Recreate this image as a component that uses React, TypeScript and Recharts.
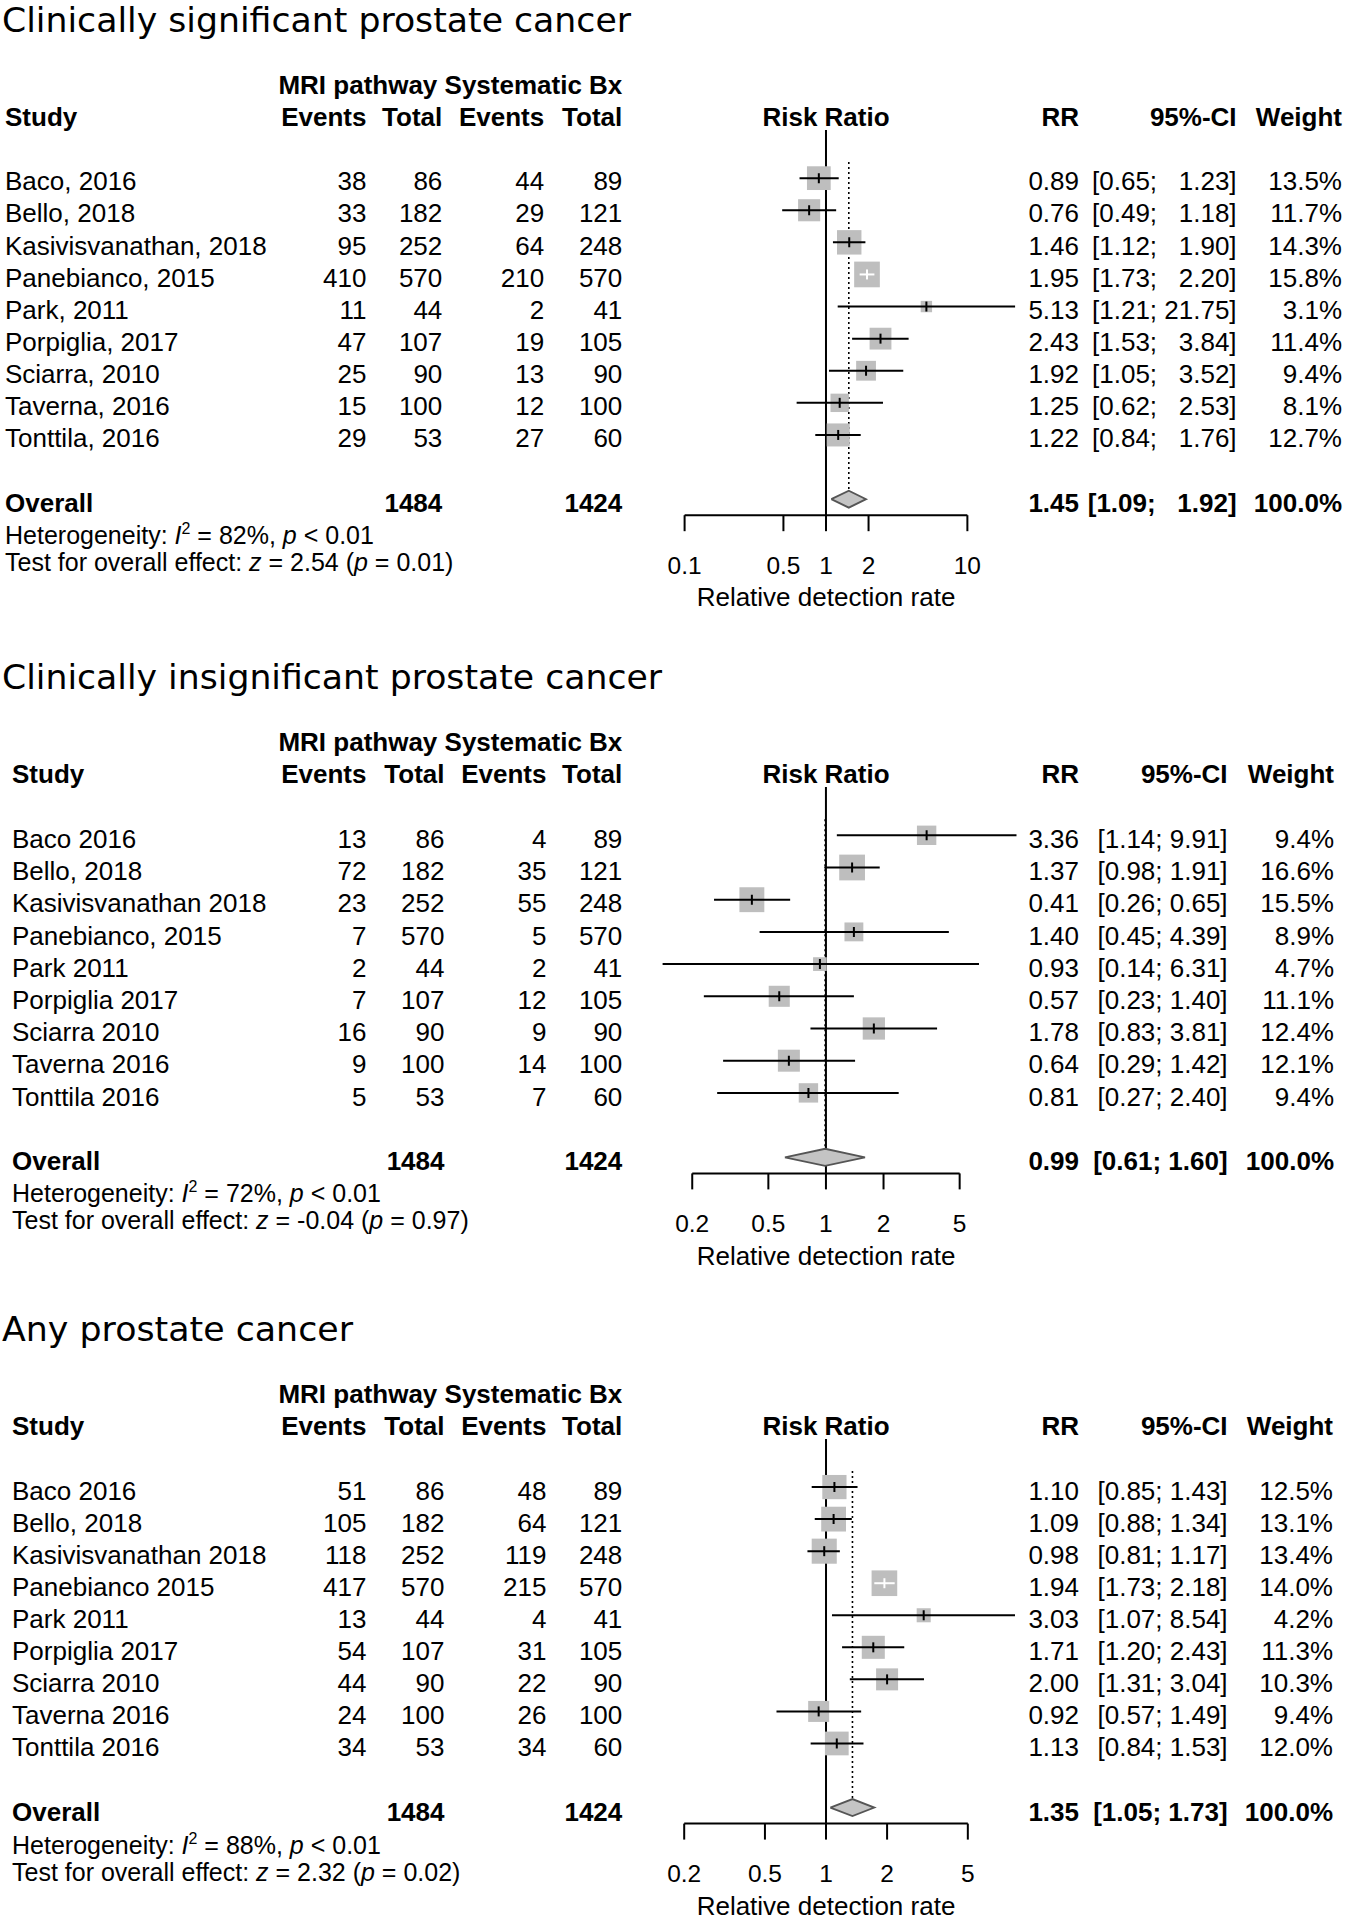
import React from "react";
import { ScatterChart, Scatter, XAxis, YAxis, ReferenceLine } from "recharts";

// ---- panel 1: clinically significant
const sigStudies = ["Baco, 2016", "Bello, 2018", "Kasivisvanathan, 2018", "Panebianco, 2015", "Park, 2011", "Porpiglia, 2017", "Sciarra, 2010", "Taverna, 2016", "Tonttila, 2016"];
const sigMriEvents = [38, 33, 95, 410, 11, 47, 25, 15, 29];
const sigMriTotal = [86, 182, 252, 570, 44, 107, 90, 100, 53];
const sigSysEvents = [44, 29, 64, 210, 2, 19, 13, 12, 27];
const sigSysTotal = [89, 121, 248, 570, 41, 105, 90, 100, 60];
const sigRR = [0.89, 0.76, 1.46, 1.95, 5.13, 2.43, 1.92, 1.25, 1.22];
const sigLower = [0.65, 0.49, 1.12, 1.73, 1.21, 1.53, 1.05, 0.62, 0.84];
const sigUpper = [1.23, 1.18, 1.9, 2.2, 21.75, 3.84, 3.52, 2.53, 1.76];
const sigWeight = [13.5, 11.7, 14.3, 15.8, 3.1, 11.4, 9.4, 8.1, 12.7];

// ---- panel 2: clinically insignificant
const insigStudies = ["Baco 2016", "Bello, 2018", "Kasivisvanathan 2018", "Panebianco, 2015", "Park 2011", "Porpiglia 2017", "Sciarra 2010", "Taverna 2016", "Tonttila 2016"];
const insigMriEvents = [13, 72, 23, 7, 2, 7, 16, 9, 5];
const insigMriTotal = [86, 182, 252, 570, 44, 107, 90, 100, 53];
const insigSysEvents = [4, 35, 55, 5, 2, 12, 9, 14, 7];
const insigSysTotal = [89, 121, 248, 570, 41, 105, 90, 100, 60];
const insigRR = [3.36, 1.37, 0.41, 1.4, 0.93, 0.57, 1.78, 0.64, 0.81];
const insigLower = [1.14, 0.98, 0.26, 0.45, 0.14, 0.23, 0.83, 0.29, 0.27];
const insigUpper = [9.91, 1.91, 0.65, 4.39, 6.31, 1.4, 3.81, 1.42, 2.4];
const insigWeight = [9.4, 16.6, 15.5, 8.9, 4.7, 11.1, 12.4, 12.1, 9.4];

// ---- panel 3: any prostate cancer
const anyStudies = ["Baco 2016", "Bello, 2018", "Kasivisvanathan 2018", "Panebianco 2015", "Park 2011", "Porpiglia 2017", "Sciarra 2010", "Taverna 2016", "Tonttila 2016"];
const anyMriEvents = [51, 105, 118, 417, 13, 54, 44, 24, 34];
const anyMriTotal = [86, 182, 252, 570, 44, 107, 90, 100, 53];
const anySysEvents = [48, 64, 119, 215, 4, 31, 22, 26, 34];
const anySysTotal = [89, 121, 248, 570, 41, 105, 90, 100, 60];
const anyRR = [1.1, 1.09, 0.98, 1.94, 3.03, 1.71, 2.0, 0.92, 1.13];
const anyLower = [0.85, 0.88, 0.81, 1.73, 1.07, 1.2, 1.31, 0.57, 0.84];
const anyUpper = [1.43, 1.34, 1.17, 2.18, 8.54, 2.43, 3.04, 1.49, 1.53];
const anyWeight = [12.5, 13.1, 13.4, 14.0, 4.2, 11.3, 10.3, 9.4, 12.0];

// ---- pooled results, one entry per panel
const panelTitles = ["Clinically significant prostate cancer", "Clinically insignificant prostate cancer", "Any prostate cancer"];
const overallMriTotal = [1484, 1484, 1484];
const overallSysTotal = [1424, 1424, 1424];
const overallRR = [1.45, 0.99, 1.35];
const overallLower = [1.09, 0.61, 1.05];
const overallUpper = [1.92, 1.6, 1.73];
const hetI2 = [82, 72, 88];
const hetP = ["< 0.01", "< 0.01", "< 0.01"];
const effectZ = ["2.54", "-0.04", "2.32"];
const effectP = ["0.01", "0.97", "0.02"];
const axisTicks = [
  [0.1, 0.5, 1, 2, 10],
  [0.2, 0.5, 1, 2, 5],
  [0.2, 0.5, 1, 2, 5],
];

const FONT = '"Liberation Sans", Arial, Helvetica, sans-serif';
const TITLE_FONT = '"DejaVu Sans", Verdana, sans-serif';
const PAGE_W = 1346;
const SQUARE = "#bebebe";
const X_ONE = 826;

const layouts = [
  { plotTop: 129.7, step: 32.1, plotLeft: 684.6, plotRight: 1015.1, studyX: 5, cols: [366.4, 442.3, 544.2, 622.3], rrRight: 1079, ciRight: 1236.6, wRight: 1342, titleW: 629 },
  { plotTop: 787.1, step: 32.2, plotLeft: 662.6, plotRight: 1016.5, studyX: 12, cols: [366.4, 444.5, 546.4, 622.3], rrRight: 1079, ciRight: 1227.6, wRight: 1334, titleW: 660 },
  { plotTop: 1439.3, step: 32.05, plotLeft: 684.2, plotRight: 1015, studyX: 12, cols: [366.4, 444.5, 546.4, 622.3], rrRight: 1079, ciRight: 1227.6, wRight: 1333, titleW: 351 },
];

const panels = [
  { studies: sigStudies, e1: sigMriEvents, n1: sigMriTotal, e2: sigSysEvents, n2: sigSysTotal, rr: sigRR, lo: sigLower, hi: sigUpper, w: sigWeight },
  { studies: insigStudies, e1: insigMriEvents, n1: insigMriTotal, e2: insigSysEvents, n2: insigSysTotal, rr: insigRR, lo: insigLower, hi: insigUpper, w: insigWeight },
  { studies: anyStudies, e1: anyMriEvents, n1: anyMriTotal, e2: anySysEvents, n2: anySysTotal, rr: anyRR, lo: anyLower, hi: anyUpper, w: anyWeight },
];

function Txt({ x, y, anchor = "start", bold = false, size = 26, children }: any) {
  return (
    <text
      x={x}
      y={y + 0.355 * size}
      textAnchor={anchor}
      fontWeight={bold ? "bold" : "normal"}
      fontSize={size}
      fontFamily={FONT}
      fill="#000"
      style={{ whiteSpace: "pre" }}
    >
      {children}
    </text>
  );
}

function fmtCI(lo: number, hi: number, width: number) {
  const h = hi.toFixed(2);
  const pad = "  ".repeat(Math.max(0, width - h.length));
  return `[${lo.toFixed(2)}; ${pad}${h}]`;
}

function PanelText({ k }: { k: number }) {
  const L = layouts[k];
  const p = panels[k];
  const y0 = L.plotTop + 1.5 * L.step;
  const n = p.studies.length;
  const hiWidth = Math.max(...p.hi.map((v) => v.toFixed(2).length), overallUpper[k].toFixed(2).length);
  const rowY = (i: number) => y0 + i * L.step + 3.3;
  const oy = y0 + (n + 1) * L.step + 3.5;
  const hy = y0 + 357.5;
  const ty = y0 + 384.5;
  const bottom = L.plotTop + 12 * L.step;
  return (
    <g>
      <text x={2} y={y0 - 146} fontSize={34} fontFamily={TITLE_FONT} fill="#000" textLength={L.titleW} lengthAdjust="spacingAndGlyphs">
        {panelTitles[k]}
      </text>
      <Txt x={L.cols[3]} y={y0 - 93.5} anchor="end" bold>MRI pathway Systematic Bx</Txt>
      <Txt x={L.studyX} y={y0 - 61.5} bold>Study</Txt>
      <Txt x={L.cols[0]} y={y0 - 61.5} anchor="end" bold>Events</Txt>
      <Txt x={L.cols[1]} y={y0 - 61.5} anchor="end" bold>Total</Txt>
      <Txt x={L.cols[2]} y={y0 - 61.5} anchor="end" bold>Events</Txt>
      <Txt x={L.cols[3]} y={y0 - 61.5} anchor="end" bold>Total</Txt>
      <Txt x={X_ONE} y={y0 - 61.5} anchor="middle" bold>Risk Ratio</Txt>
      <Txt x={L.rrRight} y={y0 - 61.5} anchor="end" bold>RR</Txt>
      <Txt x={L.ciRight} y={y0 - 61.5} anchor="end" bold>95%-CI</Txt>
      <Txt x={L.wRight} y={y0 - 61.5} anchor="end" bold>Weight</Txt>
      {p.studies.map((s, i) => (
        <g key={s}>
          <Txt x={L.studyX} y={rowY(i)}>{s}</Txt>
          <Txt x={L.cols[0]} y={rowY(i)} anchor="end">{p.e1[i]}</Txt>
          <Txt x={L.cols[1]} y={rowY(i)} anchor="end">{p.n1[i]}</Txt>
          <Txt x={L.cols[2]} y={rowY(i)} anchor="end">{p.e2[i]}</Txt>
          <Txt x={L.cols[3]} y={rowY(i)} anchor="end">{p.n2[i]}</Txt>
          <Txt x={L.rrRight} y={rowY(i)} anchor="end">{p.rr[i].toFixed(2)}</Txt>
          <Txt x={L.ciRight} y={rowY(i)} anchor="end">{fmtCI(p.lo[i], p.hi[i], hiWidth)}</Txt>
          <Txt x={L.wRight} y={rowY(i)} anchor="end">{p.w[i].toFixed(1) + "%"}</Txt>
        </g>
      ))}
      <Txt x={L.studyX} y={oy} bold>Overall</Txt>
      <Txt x={L.cols[1]} y={oy} anchor="end" bold>{overallMriTotal[k]}</Txt>
      <Txt x={L.cols[3]} y={oy} anchor="end" bold>{overallSysTotal[k]}</Txt>
      <Txt x={L.rrRight} y={oy} anchor="end" bold>{overallRR[k].toFixed(2)}</Txt>
      <Txt x={L.ciRight} y={oy} anchor="end" bold>{fmtCI(overallLower[k], overallUpper[k], hiWidth)}</Txt>
      <Txt x={L.wRight} y={oy} anchor="end" bold>100.0%</Txt>
      <text x={L.studyX} y={hy + 0.355 * 25} fontSize={25} fontFamily={FONT} fill="#000" style={{ whiteSpace: "pre" }}>
        {"Heterogeneity: "}
        <tspan fontStyle="italic">I</tspan>
        <tspan fontSize={16} dy={-10}>2</tspan>
        <tspan dy={10}>{` = ${hetI2[k]}%, `}</tspan>
        <tspan fontStyle="italic">p</tspan>
        {` ${hetP[k]}`}
      </text>
      <text x={L.studyX} y={ty + 0.355 * 25} fontSize={25} fontFamily={FONT} fill="#000" style={{ whiteSpace: "pre" }}>
        {"Test for overall effect: "}
        <tspan fontStyle="italic">z</tspan>
        {` = ${effectZ[k]} (`}
        <tspan fontStyle="italic">p</tspan>
        {` = ${effectP[k]})`}
      </text>
      <Txt x={X_ONE} y={bottom + 82} anchor="middle">Relative detection rate</Txt>
    </g>
  );
}

function ForestChart({ k }: { k: number }) {
  const L = layouts[k];
  const p = panels[k];
  const ticks = axisTicks[k];
  const n = p.studies.length;
  const oRow = n + 1;
  const plotH = 12 * L.step;
  const chartTop = L.plotTop - 10;
  const chartH = 10 + plotH + 100;
  const dMin = Math.min(ticks[0], ...p.lo, overallLower[k]);
  const dMax = Math.max(ticks[ticks.length - 1], ...p.hi, overallUpper[k]);
  const pxPerDecade = (L.plotRight - L.plotLeft) / (Math.log10(dMax) - Math.log10(dMin));
  const wMax = Math.max(...p.w);
  const rows = p.studies.map((s, i) => {
    const size = 0.8 * L.step * Math.sqrt(p.w[i] / wMax);
    const half = size / 2 / pxPerDecade;
    const inside = Math.log10(p.hi[i] / p.rr[i]) < half && Math.log10(p.rr[i] / p.lo[i]) < half;
    return { name: s, x: p.rr[i], y: i, size, inside };
  });
  const dh = 8.5 / L.step;
  const diamond = [
    { x: overallLower[k], y: oRow },
    { x: overallRR[k], y: oRow - dh },
    { x: overallUpper[k], y: oRow },
    { x: overallRR[k], y: oRow + dh },
    { x: overallLower[k], y: oRow },
  ];
  const tickShape = (props: any) => {
    const { cx, cy, payload } = props;
    return <line x1={cx} x2={cx} y1={cy - 5} y2={cy + 5} stroke={payload.inside ? "#fff" : "#000"} strokeWidth={2} />;
  };

  return (
    <div style={{ position: "absolute", left: 0, top: chartTop }}>
      <ScatterChart width={PAGE_W} height={chartH} margin={{ top: 10, left: L.plotLeft, right: PAGE_W - L.plotRight, bottom: 0 }}>
        <XAxis
          type="number"
          dataKey="x"
          scale="log"
          domain={[dMin, dMax]}
          ticks={ticks}
          interval={0}
          axisLine={false}
          tickLine={{ stroke: "#000", strokeWidth: 2 }}
          tickSize={16}
          tickMargin={25}
          height={100}
          tick={{ fill: "#000", fontSize: 24.5, fontFamily: FONT }}
          tickFormatter={(v: number) => String(v)}
        />
        <YAxis type="number" dataKey="y" domain={[-1.5, n + 1.5]} reversed hide allowDataOverflow />
        <ReferenceLine
          segment={[{ x: ticks[0], y: n + 1.5 }, { x: ticks[ticks.length - 1], y: n + 1.5 }]}
          stroke="#000"
          strokeWidth={2}
          ifOverflow="visible"
        />
        <ReferenceLine x={1} stroke="#000" strokeWidth={2} ifOverflow="visible" />
        <ReferenceLine
          segment={[{ x: overallRR[k], y: -0.5 }, { x: overallRR[k], y: oRow - dh }]}
          stroke="#000"
          strokeWidth={1.6}
          strokeDasharray="2 3"
          ifOverflow="visible"
        />
        <Scatter
          data={rows}
          isAnimationActive={false}
          shape={(props: any) => {
            const { cx, cy, payload } = props;
            const s = payload.size;
            return <rect x={cx - s / 2} y={cy - s / 2} width={s} height={s} fill={SQUARE} />;
          }}
        />
        {rows.map((r, i) => (
          <Scatter
            key={r.name}
            data={[
              { x: p.lo[i], y: i },
              { x: p.hi[i], y: i },
            ]}
            isAnimationActive={false}
            line={{ stroke: r.inside ? "#fff" : "#000", strokeWidth: 2 }}
            lineType="joint"
            shape={() => <g />}
          />
        ))}
        <Scatter data={rows} isAnimationActive={false} shape={tickShape} />
        <Scatter
          data={diamond}
          isAnimationActive={false}
          line={{ stroke: "#555", strokeWidth: 1.8, fill: "#c4c4c4" }}
          lineType="joint"
          shape={() => <g />}
        />
      </ScatterChart>
    </div>
  );
}

export default function App() {
  return (
    <div style={{ position: "absolute", left: 0, top: 0, width: PAGE_W, height: 1920, background: "#fff", overflow: "hidden" }}>
      {[0, 1, 2].map((k) => (
        <ForestChart key={k} k={k} />
      ))}
      <svg width={PAGE_W} height={1920} style={{ position: "absolute", left: 0, top: 0, pointerEvents: "none" }}>
        {[0, 1, 2].map((k) => (
          <PanelText key={k} k={k} />
        ))}
      </svg>
    </div>
  );
}
